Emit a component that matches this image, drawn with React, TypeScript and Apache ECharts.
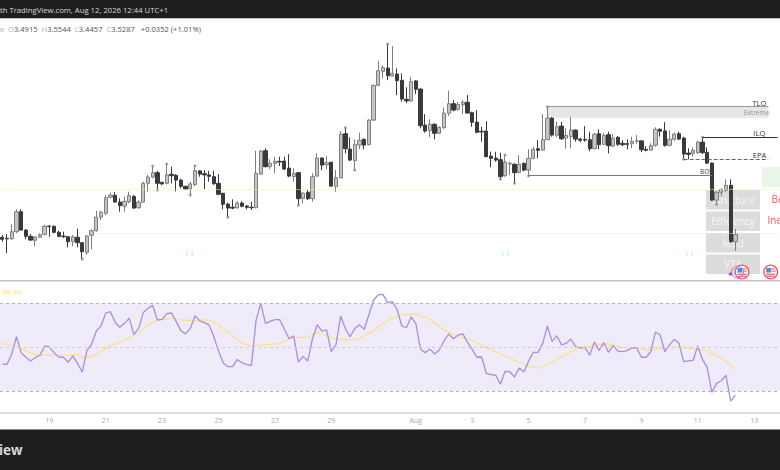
import React, { useEffect, useRef } from "react";
import * as echarts from "echarts";

// [open, close, low, high], one per 4h bar
const candleValues: number[][] = [
[3.514,3.504,3.492,3.526],[3.509,3.506,3.434,3.530],[3.507,3.542,3.500,3.580],[3.542,3.642,3.534,3.654],[3.642,3.550,3.547,3.654],
[3.550,3.519,3.504,3.554],[3.519,3.500,3.497,3.530],[3.499,3.516,3.470,3.520],[3.514,3.527,3.511,3.534],[3.529,3.570,3.524,3.576],
[3.570,3.567,3.517,3.574],[3.569,3.539,3.534,3.574],[3.539,3.519,3.514,3.547],[3.520,3.517,3.511,3.542],[3.517,3.492,3.464,3.520],
[3.492,3.516,3.470,3.526],[3.514,3.487,3.464,3.557],[3.487,3.442,3.405,3.490],[3.439,3.520,3.426,3.526],[3.524,3.547,3.454,3.554],
[3.547,3.615,3.542,3.647],[3.615,3.639,3.600,3.647],[3.634,3.712,3.626,3.725],[3.714,3.725,3.709,3.737],[3.724,3.690,3.687,3.740],
[3.690,3.672,3.642,3.709],[3.670,3.694,3.642,3.717],[3.692,3.722,3.684,3.742],[3.719,3.660,3.657,3.725],[3.662,3.690,3.657,3.700],
[3.690,3.784,3.687,3.792],[3.784,3.815,3.742,3.826],[3.815,3.837,3.809,3.870],[3.837,3.784,3.750,3.847],[3.789,3.781,3.774,3.792],
[3.784,3.826,3.779,3.880],[3.829,3.822,3.784,3.867],[3.824,3.800,3.744,3.830],[3.800,3.769,3.759,3.807],[3.769,3.755,3.750,3.772],
[3.755,3.781,3.725,3.792],[3.777,3.847,3.770,3.872],[3.846,3.830,3.817,3.850],[3.832,3.826,3.754,3.850],[3.826,3.819,3.792,3.847],
[3.817,3.782,3.776,3.847],[3.784,3.729,3.725,3.830],[3.734,3.679,3.654,3.737],[3.680,3.660,3.614,3.687],[3.664,3.660,3.654,3.704],
[3.662,3.685,3.657,3.694],[3.685,3.669,3.664,3.694],[3.670,3.664,3.654,3.675],[3.664,3.662,3.650,3.692],[3.662,3.834,3.659,3.947],
[3.830,3.945,3.827,3.950],[3.947,3.867,3.864,3.959],[3.867,3.884,3.854,3.904],[3.884,3.894,3.834,3.917],[3.894,3.890,3.870,3.917],
[3.895,3.855,3.850,3.917],[3.860,3.820,3.814,3.930],[3.817,3.834,3.792,3.859],[3.837,3.707,3.675,3.840],[3.709,3.735,3.684,3.740],
[3.739,3.707,3.700,3.750],[3.707,3.817,3.692,3.834],[3.820,3.910,3.817,3.934],[3.910,3.875,3.850,3.914],[3.877,3.887,3.854,3.920],
[3.889,3.770,3.767,3.892],[3.769,3.812,3.742,3.850],[3.812,4.029,3.809,4.045],[4.032,3.957,3.934,4.062],[3.955,3.900,3.895,4.014],
[3.897,3.977,3.850,4.004],[3.975,3.999,3.954,4.037],[4.004,3.975,3.954,4.009],[3.977,4.100,3.974,4.104],[4.100,4.274,4.097,4.277],
[4.274,4.347,4.270,4.397],[4.344,4.362,4.309,4.375],[4.360,4.322,4.300,4.480],[4.320,4.334,4.317,4.470],[4.330,4.297,4.225,4.359],
[4.299,4.205,4.192,4.334],[4.204,4.196,4.184,4.264],[4.196,4.292,4.192,4.317],[4.296,4.254,4.230,4.300],[4.255,4.072,4.059,4.259],
[4.075,4.045,4.037,4.130],[4.047,4.079,4.014,4.104],[4.079,4.034,4.004,4.084],[4.034,4.064,4.030,4.070],[4.062,4.135,4.057,4.164],
[4.134,4.182,4.120,4.247],[4.182,4.150,4.144,4.200],[4.154,4.179,4.147,4.192],[4.177,4.189,4.130,4.200],[4.189,4.135,4.134,4.225],
[4.137,4.089,4.067,4.142],[4.090,4.039,4.034,4.150],[4.044,4.041,3.992,4.067],[4.045,3.917,3.914,4.095],[3.920,3.909,3.864,3.942],
[3.910,3.900,3.892,3.942],[3.902,3.817,3.804,3.937],[3.822,3.889,3.817,3.925],[3.880,3.884,3.825,3.892],[3.879,3.837,3.784,3.884],
[3.839,3.880,3.834,3.925],[3.884,3.850,3.844,3.887],[3.850,3.909,3.820,3.954],[3.909,3.954,3.904,3.967],[3.957,3.949,3.909,4.000],
[3.950,4.002,3.947,4.130],[4.002,4.110,4.000,4.167],[4.110,4.025,4.017,4.114],[4.024,4.067,4.014,4.092],[4.070,4.007,4.000,4.092],
[4.010,4.024,3.957,4.059],[4.017,4.050,3.959,4.117],[4.050,4.005,3.992,4.054],[4.005,3.999,3.989,4.012],[4.004,4.000,3.992,4.070],
[4.002,3.957,3.944,4.042],[3.957,4.029,3.954,4.037],[4.032,3.977,3.954,4.054],[3.979,4.024,3.975,4.037],[4.027,3.972,3.934,4.042],
[3.970,4.010,3.964,4.030],[4.014,3.979,3.970,4.020],[3.984,3.977,3.970,4.000],[3.982,3.979,3.954,4.004],[3.982,3.994,3.960,4.017],
[3.994,3.997,3.980,4.025],[3.996,3.952,3.940,4.000],[3.954,3.949,3.944,3.970],[3.950,3.972,3.947,3.984],[3.974,4.054,3.967,4.064],
[4.054,4.044,4.017,4.059],[4.046,3.974,3.967,4.090],[3.974,4.005,3.970,4.050],[4.004,4.030,3.997,4.037],[4.032,4.005,4.000,4.042],
[4.010,3.930,3.904,4.017],[3.935,3.929,3.904,3.959],[3.934,3.949,3.917,3.964],[3.937,3.990,3.930,3.997],[3.990,3.937,3.930,4.014],
[3.939,3.885,3.880,3.964],[3.885,3.700,3.695,3.889],[3.700,3.739,3.679,3.745],[3.739,3.754,3.720,3.759],[3.749,3.774,3.742,3.804],
[3.774,3.492,3.487,3.804],[3.4915,3.5287,3.4457,3.5544],
];

const rsiValues: number[] = [
42.4,42.3,47,54.8,47.6,45.5,43.8,45.3,46.4,50.5,50.2,47.6,45.6,45.5,43.2,46.1,42.7,38.8,48.5,51.5,
57.4,59.7,65.5,66.2,61.4,59.1,60.9,63.3,55.8,58.6,65.8,67.7,69.1,62.4,62.7,65.3,65.6,61.7,57.6,56.1,
58.6,64.4,62,61.2,60.2,54.8,48.5,43,41.2,41.2,44.5,43,42.1,41.7,62.4,70,60.9,61.8,62.6,62.6,
58.3,53.9,55.2,43.3,45.9,43.8,53.9,60.3,57.4,57.9,48,51.1,64.2,58.6,54.8,58.6,60.2,58.2,64.7,71.5,
73.8,74.1,70.3,70.8,67.3,59.8,58.9,63.9,60.9,49.1,47.6,49.2,47,48.8,52.9,56.1,53.9,55.6,56.1,52.3,
49.1,45.5,45.6,38.2,37.6,37.3,33.3,39.1,38.9,36.5,40.6,38.8,43.8,47.7,47.7,51.8,59.7,52.7,55.3,51.1,
51.8,53.8,50.3,49.8,50,46.4,52.4,48.6,52.1,47.7,50.8,48.3,48,48.5,49.8,49.8,45.5,45.5,48,57,
55.6,48,51.1,53.6,51.8,43.5,43.8,44.1,50.6,44.5,40.9,29.5,33.6,34.8,37.3,25.5,28.3,
];

// [bar index, RSI average] read where the yellow line could be read
const rsiAverage: number[][] = [
[0,51.8],[3,50.3],[6,47.4],[8,46.4],[10,46.4],[13,46.5],[16,46.7],[17,45.5],[19,45.6],[21,48.3],[23,50.8],[26,53.3],[29,56.4],
[31,60.2],[33,62.4],[36,63.2],[39,62.3],[41,62.1],[44,62.6],[46,60.2],[49,55.3],[51,51.8],[53,50.5],[55,51.1],[59,51.7],[61,53.9],
[63,54.5],[65,54.5],[67,56.8],[69,55.3],[71,53.9],[74,53.3],[76,53.9],[79,57.6],[80,59.4],[82,62.1],[83,63.2],[85,64.7],[88,65.2],
[91,62.7],[94,57.9],[97,54.8],[100,53],[103,50],[106,47],[109,44.2],[112,41.2],[114,40.6],[116,42.3],[119,45.8],[122,49.2],[125,50.6],
[126,51.5],[129,51.4],[132,50],[135,49.4],[138,48.6],[140,49.7],[144,50.2],[148,49.1],[150,48.5],[153,45],[156,40.2],
];

const tickIndexes = [10, 22, 34, 46, 58, 70, 88, 100, 112, 124, 136, 148, 160];
const tickLabels = ["19", "21", "23", "25", "27", "29", "Aug", "3", "5", "7", "9", "11", "13"];
const highPivots = [32, 35, 41, 73, 82, 107, 116, 149];
const lowPivots = [17, 33, 40, 48, 63, 75, 106, 109, 112, 145, 152];
const tlqLevel = 4.167, extremeBottom = 4.112, ilqLevel = 4.012, epaLevel = 3.904, bosLevel = 3.826;
const yellowLevel = 3.7545, greyLevel = 3.533;
const tableRows = ["Structure", "Efficiency", "MSU", "VTA"];
const tableStates = ["Bearish", "Inefficient"];
const quote = "{g|O}{d|3.4915}  {g|H}{d|3.5544}  {g|L}{d|3.4457}  {g|C}{d|3.5287}   {d|+0.0352 (+1.01%)}";

const barCount = 166;
const barWidth = 4.717;
const font = "'Open Sans', sans-serif";
const cats = Array.from({ length: barCount }, (_, i) => {
  const k = tickIndexes.indexOf(i);
  return k >= 0 ? tickLabels[k] : "";
});

const text = (t: string, x: number, y: number, size: number, fill: string, extra: any = {}) => ({
  type: "text", x, y, z: 5,
  style: { text: t, fontSize: size, fill, fontFamily: font, textVerticalAlign: "middle", ...extra },
});
const rect = (x: number, y: number, w: number, h: number, fill: string, z = 0) => ({
  type: "rect", z, shape: { x, y, width: w, height: h }, style: { fill },
});

const flag = (x: number, y: number) => ({
  type: "group", x, y, z: 6,
  children: [
    { type: "circle", shape: { cx: 0, cy: 0, r: 6.8 }, style: { fill: "#fff", stroke: "#e8606a", lineWidth: 1.4 } },
    { type: "rect", shape: { x: -4.6, y: 1.6, width: 9.2, height: 1.2 }, style: { fill: "#ef5a64" } },
    { type: "rect", shape: { x: -4, y: 3.6, width: 8, height: 1.2 }, style: { fill: "#ef5a64" } },
    { type: "rect", shape: { x: -4.5, y: -4, width: 4.8, height: 4.6 }, style: { fill: "#4d8fd6" } },
    { type: "rect", shape: { x: 0.6, y: -3.6, width: 4, height: 1 }, style: { fill: "#ef5a64" } },
    { type: "rect", shape: { x: 0.6, y: -1.4, width: 4.4, height: 1 }, style: { fill: "#ef5a64" } },
  ],
});

export default function App() {
  const ref = useRef<HTMLDivElement>(null);
  useEffect(() => {
    document.body.style.margin = "0";
    const chart = echarts.init(ref.current!, undefined, { renderer: "svg" });
    const level = (v: number, a: number, b: number, color: string, type = "solid", width = 1) => ({
      lineStyle: { color, type, width },
      coords: [[{ coord: [a, v] }, { coord: [b, v] }]],
    });
    const levels = [
      level(tlqLevel, 116, 163, "#999999", "solid", 1.2),
      level(ilqLevel, 149, 165, "#333333"),
      level(epaLevel, 145, 163, "#666666", "dashed"),
      level(bosLevel, 112, 151, "#777777"),
      level(yellowLevel, 0, 165, "#f3efb0", "dotted"),
      level(greyLevel, 20, 165, "#e4e4e4", "dotted"),
    ];
    chart.setOption({
      animation: false,
      backgroundColor: "#ffffff",
      grid: [
        { left: 0, top: 32, width: barCount * barWidth, height: 248 },
        { left: 0, top: 282, width: barCount * barWidth, height: 130 },
      ],
      xAxis: [
        { type: "category", gridIndex: 0, data: cats, show: false, boundaryGap: true },
        {
          type: "category", gridIndex: 1, data: cats, boundaryGap: true,
          axisLine: { show: false }, axisTick: { show: false },
          axisLabel: {
            interval: (i: number) => cats[i] !== "", margin: 5, fontSize: 7, color: "#a8a8a8",
            fontFamily: font, hideOverlap: false,
          },
        },
      ],
      yAxis: [
        { type: "value", gridIndex: 0, min: 3.3005, max: 4.5405, show: false, splitLine: { show: false } },
        { type: "value", gridIndex: 1, min: 20.6, max: 79.7, show: false, splitLine: { show: false } },
      ],
      graphic: [
        rect(0, 0, 780, 18, "#1e1e1e", 4),
        rect(0, 18, 780, 1, "#bdbdbd", 4),
        rect(0, 280, 780, 1.6, "#c4c4c4", 4),
        rect(0, 412, 780, 2, "#dddddd", 4),
        rect(0, 429.5, 780, 40.5, "#1e1e1e", 4),
        rect(762, 167, 18, 20, "#eaf5ea"),
        ...tableRows.map((_, k) => rect(706, 190 + k * 21.5, 54, 19.5, "#dcdcdc")),
        ...tableRows.map((t, k) => ({
          type: "text", x: 733, y: 199.5 + k * 21.5, z: 0,
          style: { text: t, fontSize: 10, fill: "#f7f7f7", fontFamily: font, textAlign: "center", textVerticalAlign: "middle" },
        })),
        text(tableStates[0], 771.5, 199, 10, "#f4606a"),
        text(tableStates[1], 767.5, 220, 10, "#f4606a"),
        text("th TradingView.com, Aug 12, 2026 12:44 UTC+1", 0, 10, 7.7, "#d8d8d8"),
        text("e", 0, 28.5, 7.6, "#b0b0b0"),
        {
          type: "text", x: 8, y: 28.5, z: 5,
          style: {
            text: quote, fontFamily: font, fontSize: 7.6, textVerticalAlign: "middle",
            rich: { g: { fill: "#b0b0b0", fontSize: 7.6, fontFamily: font }, d: { fill: "#555555", fontSize: 7.6, fontFamily: font } },
          },
        },
        text("39.93", 2, 292, 7.6, "#fbdb7c"),
        text("iew", -1, 450, 13.5, "#d8d8d8", { fontWeight: "bold" }),
        text("TLQ", 752.3, 103, 7.6, "#333333"),
        text("ILQ", 753.3, 133, 7.6, "#333333"),
        text("EPA", 752.7, 155, 7.6, "#333333"),
        text("BOS", 700, 171.5, 6.4, "#444444"),
        text("Extreme", 743.7, 112.5, 6.6, "#999999"),
        text("I  I", 185.5, 253, 7, "#7ff0c2"),
        text("I  I", 501.5, 253, 7, "#7ff0c2"),
        text("I  I", 685.5, 253, 7, "#7ff0c2"),
        { type: "circle", z: 5, shape: { cx: 737.5, cy: 272, r: 6 }, style: { fill: "none", stroke: "#a77cf0", lineWidth: 1 } },
        text("✦", 727, 273.5, 8, "#7a4df0"),
        flag(742, 272),
        flag(770.7, 272),
      ],
      series: [
        {
          type: "line", xAxisIndex: 0, yAxisIndex: 0, data: [], z: 1, silent: true,
          markArea: {
            silent: true,
            itemStyle: { color: "#e6e6e6" },
            data: [[{ coord: [116, tlqLevel] }, { coord: [163, extremeBottom] }]],
          },
        },
        ...levels.map((l) => ({
          type: "line", xAxisIndex: 0, yAxisIndex: 0, data: [], z: 1, silent: true,
          markLine: { silent: true, symbol: "none", label: { show: false }, lineStyle: l.lineStyle, data: l.coords },
        })),
        {
          type: "candlestick", xAxisIndex: 0, yAxisIndex: 0, data: candleValues, z: 3, barWidth: 3.8,
          itemStyle: { color: "#c4c4c4", color0: "#3a3a3a", borderColor: "#7e7e7e", borderColor0: "#3a3a3a", borderWidth: 1 },
        },
        {
          type: "scatter", xAxisIndex: 0, yAxisIndex: 0, z: 4, symbolSize: 3,
          itemStyle: { color: "#8c8c8c" },
          data: [
            ...highPivots.map((i) => [i, candleValues[i][3]]),
            ...lowPivots.map((i) => [i, candleValues[i][2]]),
          ],
        },
        {
          type: "line", xAxisIndex: 1, yAxisIndex: 1, data: rsiValues, showSymbol: false, z: 3,
          lineStyle: { color: "#a88ee0", width: 1.3 },
          markArea: { silent: true, itemStyle: { color: "#f0ebf9" }, data: [[{ yAxis: 70, x: 0 }, { yAxis: 30, x: 780 }]] },
          markLine: {
            silent: true, symbol: "none", label: { show: false },
            lineStyle: { color: "#b5b0bd", type: [3, 3], width: 1 },
            data: [
              { yAxis: 70 },
              { yAxis: 50, lineStyle: { color: "#d2cbdf", type: [3, 3], width: 1 } },
              { yAxis: 30 },
            ],
          },
        },
        {
          type: "line", xAxisIndex: 1, yAxisIndex: 1, data: rsiAverage, showSymbol: false, z: 2,
          lineStyle: { color: "#fbe08e", width: 1.3 },
        },
      ],
    });
    return () => chart.dispose();
  }, []);
  return <div ref={ref} style={{ width: 780, height: 470, overflow: "hidden" }} />;
}
